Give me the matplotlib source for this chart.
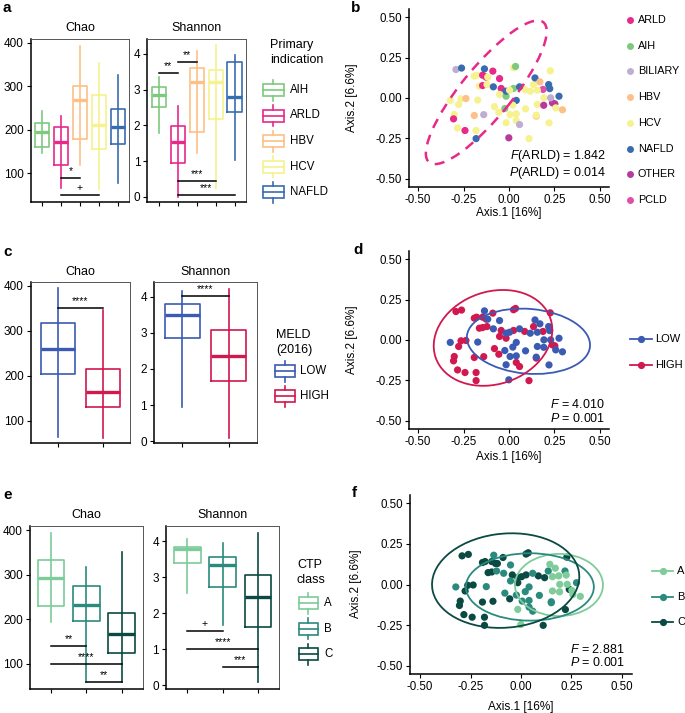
import matplotlib
matplotlib.use('Agg')
import matplotlib.pyplot as plt
from matplotlib.patches import Ellipse, Rectangle
from matplotlib.ticker import FormatStrFormatter

plt.rcParams['font.family'] = ['Liberation Sans', 'DejaVu Sans']
plt.rcParams['mathtext.fontset'] = 'custom'
plt.rcParams['mathtext.rm'] = 'Liberation Sans'
plt.rcParams['mathtext.it'] = 'Liberation Sans:italic'

W, H = 685, 713

# ---------------- box plot data (whislo, q1, median, q3, whishi) ----------------
ind_groups = ['AIH', 'ARLD', 'HBV', 'HCV', 'NAFLD']
ind_colors = ['#7fc97f', '#e7298a', '#fdc086', '#f5f28f', '#386cb0']
ind_chao = [[146, 161, 194, 215, 243],
            [66, 119, 173, 207, 232],
            [119, 180, 268, 300, 392],
            [64, 157, 211, 280, 354],
            [77, 167, 207, 247, 326]]
ind_shannon = [[1.79, 2.52, 2.85, 3.07, 3.35],
               [0.0, 0.95, 1.52, 1.98, 2.54],
               [1.23, 1.82, 3.22, 3.60, 4.07],
               [0.23, 2.17, 3.22, 3.55, 4.25],
               [1.03, 2.36, 2.80, 3.76, 3.97]]
ind_chao_sig = [(2, 3, 90, '*'), (2, 4, 50, '+')]
ind_shannon_sig = [(1, 2, 3.46, '**'), (2, 3, 3.76, '**'),
                   (2, 4, 0.44, '***'), (2, 5, 0.05, '***')]

meld_groups = ['LOW', 'HIGH']
meld_colors = ['#3b5bb3', '#d1184f']
meld_chao = [[63, 204, 259, 317, 395],
             [61, 130, 165, 214, 347]]
meld_shannon = [[0.95, 2.87, 3.49, 3.80, 4.17],
                [0.08, 1.66, 2.36, 3.08, 4.23]]
meld_chao_sig = [(1, 2, 350, '****')]
meld_shannon_sig = [(1, 2, 4.02, '****')]

ctp_groups = ['A', 'B', 'C']
ctp_colors = ['#7dcc99', '#2b8a7e', '#0b4a42']
ctp_chao = [[193, 230, 292, 333, 394],
            [60, 197, 232, 275, 318],
            [60, 125, 166, 213, 351]]
ctp_shannon = [[2.57, 3.38, 3.77, 3.84, 4.07],
               [1.67, 2.73, 3.33, 3.55, 3.95],
               [0.10, 1.63, 2.44, 3.06, 4.23]]
ctp_chao_sig = [(1, 2, 140, '**'), (1, 3, 100, '****'), (2, 3, 60, '**')]
ctp_shannon_sig = [(1, 2, 1.5, '+'), (1, 3, 1.0, '****'), (2, 3, 0.5, '***')]

# ---------------- ordination (PCoA) points ----------------
pc1 = [-0.292, -0.261, -0.191, -0.178, -0.145, -0.126, -0.089, 0.025, 0.036, 0.227,
       -0.163, -0.145, -0.121, -0.043, -0.052, -0.016, 0.025, 0.086, 0.135, 0.187,
       0.239, 0.252, -0.264, -0.237, -0.277, -0.301, -0.305, -0.283, -0.242, -0.181,
       -0.181, -0.191, -0.139, -0.080, -0.056, 0.040, 0.058, 0.110, 0.150,
       -0.323, -0.172, -0.135, -0.117, -0.086, -0.052, -0.016, 0.003, 0.058, 0.040,
       0.021, -0.023, 0.006, 0.040, -0.016, -0.001, 0.091, 0.117, 0.143, 0.170,
       0.156, 0.150, 0.156, 0.192, 0.191, 0.218, 0.224, 0.229, 0.275, 0.257,
       0.294, 0.220]
pc2 = [0.176, 0.185, 0.135, 0.141, 0.141, 0.129, 0.166, 0.187, 0.195, 0.168,
       0.073, 0.077, 0.083, 0.059, 0.022, 0.011, 0.059, 0.053, 0.083, 0.053,
       -0.030, -0.036, -0.005, -0.003, -0.040, -0.102, -0.129, -0.185, -0.201, -0.201,
       -0.251, -0.108, -0.103, -0.053, -0.088, -0.139, -0.164, -0.251, -0.112,
       -0.015, -0.013, 0.180, 0.129, 0.069, 0.120, 0.042, 0.048, 0.069, -0.015,
       -0.044, -0.065, -0.102, -0.098, -0.153, -0.246, -0.067, 0.042, 0.124, 0.100,
       0.048, -0.106, -0.040, 0.001, -0.045, 0.083, 0.058, 0.001, 0.011, -0.061,
       -0.073, -0.154]
meld = ['HIGH'] * 39 + ['LOW'] * 32
indication = ['BILIARY', 'NAFLD', 'HCV', 'HCV', 'ARLD', 'ARLD', 'ARLD', 'HCV', 'AIH', 'HCV',
              'HCV', 'ARLD', 'HCV', 'ARLD', 'HCV', 'AIH', 'AIH', 'HCV', 'HCV', 'PCLD',
              'OTHER', 'OTHER', 'HCV', 'HBV', 'HCV', 'HCV', 'ARLD', 'HCV', 'ARLD', 'HCV',
              'NAFLD', 'HBV', 'BILIARY', 'HCV', 'HCV', 'HCV', 'BILIARY', 'HCV', 'HBV',
              'HCV', 'HCV', 'NAFLD', 'HCV', 'NAFLD', 'ARLD', 'NAFLD', 'HCV', 'NAFLD', 'NAFLD',
              'HCV', 'AIH', 'HCV', 'HCV', 'HCV', 'OTHER', 'HCV', 'HCV', 'NAFLD', 'HBV',
              'HCV', 'HCV', 'HCV', 'HCV', 'OTHER', 'NAFLD', 'NAFLD', 'BILIARY', 'NAFLD', 'HCV',
              'HBV', 'HCV']
ctp = ['C', 'C', 'C', 'C', 'C', 'C', 'C', 'C', 'C', 'C',
       'C', 'C', 'B', 'C', 'B', 'C', 'C', 'C', 'B', 'A',
       'C', 'A', 'C', 'C', 'C', 'C', 'C', 'C', 'C', 'C',
       'C', 'C', 'C', 'B', 'C', 'B', 'B', 'C', 'B',
       'B', 'B', 'B', 'C', 'B', 'B', 'C', 'C', 'B', 'B',
       'B', 'B', 'B', 'B', 'A', 'A', 'B', 'C', 'A', 'A',
       'A', 'B', 'A', 'A', 'A', 'B', 'A', 'A', 'B', 'A',
       'A', 'C']

pt_groups = ['ARLD', 'AIH', 'BILIARY', 'HBV', 'HCV', 'NAFLD', 'OTHER', 'PCLD']
pt_colors = ['#e7298a', '#7fc97f', '#beaed4', '#fdc086', '#f5f28f', '#386cb0', '#b83a9c', '#df4fa8']

# ellipses: (center x, center y, width, height, angle)
arld_ellipse = (-0.125, 0.035, 1.07, 0.29, 54.5)
meld_ellipses = [(0.107, -0.008, 0.68, 0.40, -6),
                 (-0.088, 0.013, 0.68, 0.56, 30)]
ctp_ellipses = [(0.188, -0.003, 0.436, 0.382, 0),
                (0.044, -0.015, 0.634, 0.414, 0),
                (-0.076, 0.024, 0.734, 0.576, 10)]

fig = plt.figure(figsize=(W / 100, H / 100), dpi=100)


def rect(l, t, r, b):
    return [l / W, 1 - b / H, (r - l) / W, (b - t) / H]


def box_panel(pos, stats, colors, ylim, yticks, title, sigs, title_y):
    ax = fig.add_axes(rect(*pos))
    n = len(stats)
    bx = [dict(whislo=s[0], q1=s[1], med=s[2], q3=s[3], whishi=s[4], fliers=[]) for s in stats]
    art = ax.bxp(bx, positions=range(1, n + 1), widths=0.75, showcaps=False,
                 manage_ticks=False)
    for i, c in enumerate(colors):
        art['boxes'][i].set(color=c, lw=1.2)
        art['medians'][i].set(color=c, lw=2.4)
        art['whiskers'][2 * i].set(color=c, lw=1.2)
        art['whiskers'][2 * i + 1].set(color=c, lw=1.2)
        ax.vlines(i + 1, stats[i][1], stats[i][3], color=c, lw=1.2)
    rng = ylim[1] - ylim[0]
    for x1, x2, y, lab in sigs:
        ax.plot([x1, x2], [y, y], color='black', lw=1.1)
        ax.text((x1 + x2) / 2, y + rng * 0.012, lab, ha='center', va='bottom', fontsize=7.5)
    ax.set_xlim(0.4, n + 0.6)
    ax.set_ylim(*ylim)
    ax.set_xticks(range(1, n + 1))
    ax.set_xticklabels([])
    ax.set_yticks(yticks)
    ax.tick_params(length=3, width=0.8, labelsize=8.5, pad=2)
    for s in ['top', 'right']:
        ax.spines[s].set(color='#555555', lw=0.7)
    for s in ['left', 'bottom']:
        ax.spines[s].set(color='black', lw=1.1)
    fig.text((pos[0] + pos[2]) / 2 / W, 1 - title_y / H, title, ha='center', va='center', fontsize=9)
    return ax


def scatter_panel(pos, cols, ellipses, ell_colors, stat_lines, stat_pos, dashed=False):
    ax = fig.add_axes(rect(*pos))
    ax.scatter(pc1, pc2, c=cols, s=27, linewidths=0, zorder=2)
    for (cx, cy, w, h, a), c in zip(ellipses, ell_colors):
        if dashed:
            e = Ellipse((cx, cy), w, h, angle=a, fill=False, ec=c, lw=1.8, ls=(0, (4, 3)), zorder=3)
        else:
            e = Ellipse((cx, cy), w, h, angle=a, fill=False, ec=c, lw=1.3, zorder=3)
        ax.add_patch(e)
    ax.set_xlim(-0.55, 0.55)
    ax.set_ylim(-0.55, 0.55)
    ticks = [-0.5, -0.25, 0, 0.25, 0.5]
    ax.set_xticks(ticks)
    ax.set_yticks(ticks)
    ax.xaxis.set_major_formatter(FormatStrFormatter('%.2f'))
    ax.yaxis.set_major_formatter(FormatStrFormatter('%.2f'))
    ax.tick_params(length=3, width=0.8, labelsize=8.3, pad=2)
    ax.spines['top'].set_visible(False)
    ax.spines['right'].set_visible(False)
    ax.spines['left'].set_lw(1.1)
    ax.spines['bottom'].set_lw(1.1)
    xr, y1, y2 = stat_pos
    ax.text(xr, y1, stat_lines[0], transform=ax.transAxes, ha='right', va='center', fontsize=9)
    ax.text(xr, y2, stat_lines[1], transform=ax.transAxes, ha='right', va='center', fontsize=9)
    return ax


# ---------------- box plot panels ----------------
box_panel((30.7, 39.3, 129, 201.7), ind_chao, ind_colors, (35, 408), [100, 200, 300, 400], 'Chao', ind_chao_sig, 28)
box_panel((147.3, 39.3, 246, 201.7), ind_shannon, ind_colors, (-0.14, 4.41), [0, 1, 2, 3, 4], 'Shannon', ind_shannon_sig, 28)
box_panel((30.7, 281.7, 130, 443.3), meld_chao, meld_colors, (50, 409), [100, 200, 300, 400], 'Chao', meld_chao_sig, 272)
box_panel((154, 281.7, 256.7, 443.3), meld_shannon, meld_colors, (-0.06, 4.42), [0, 1, 2, 3, 4], 'Shannon', meld_shannon_sig, 272)
box_panel((30, 526, 142.7, 689.3), ctp_chao, ctp_colors, (43, 409), [100, 200, 300, 400], 'Chao', ctp_chao_sig, 515)
box_panel((166, 526, 279.3, 689.3), ctp_shannon, ctp_colors, (-0.11, 4.42), [0, 1, 2, 3, 4], 'Shannon', ctp_shannon_sig, 515)

# ---------------- ordination panels ----------------
ind_cmap = dict(zip(pt_groups, pt_colors))
meld_cmap = dict(zip(meld_groups, meld_colors))
ctp_cmap = dict(zip(ctp_groups, ctp_colors))

scatter_panel((409, 9, 609, 187), [ind_cmap[g] for g in indication], [arld_ellipse], ['#e7298a'],
              [r'$\it{F}$(ARLD) = 1.842', r'$\it{P}$(ARLD) = 0.014'], (0.985, 0.176, 0.079), dashed=True)
scatter_panel((409, 251, 609, 429), [meld_cmap[g] for g in meld], meld_ellipses, meld_colors,
              [r'$\it{F}$ = 4.010', r'$\it{P}$ = 0.001'], (0.98, 0.14, 0.06))
scatter_panel((410, 495, 632, 674), [ctp_cmap[g] for g in ctp], ctp_ellipses, ctp_colors,
              [r'$\it{F}$ = 2.881', r'$\it{P}$ = 0.001'], (0.968, 0.138, 0.063))

# ---------------- overlay: labels and legends ----------------
ov = fig.add_axes([0, 0, 1, 1])
ov.set_xlim(0, W)
ov.set_ylim(H, 0)
ov.axis('off')
ov.patch.set_visible(False)

for lab, x, y in [('a', 3, 8), ('b', 351, 8), ('c', 3, 252), ('d', 353, 250), ('e', 3, 495), ('f', 352, 493)]:
    ov.text(x, y, lab, fontsize=11, fontweight='bold', ha='left', va='center')

for x, y in [(509, 213), (509, 457), (521, 707)]:
    ov.text(x, y, 'Axis.1 [16%]', fontsize=8.5, ha='center', va='center')
for x, y in [(352, 98), (352, 340), (356, 584)]:
    ov.text(x, y, 'Axis.2 [6.6%]', fontsize=8.5, ha='center', va='center', rotation=90)


def box_legend(title_lines, x_title, y_title, labels, colors, x0, w, ys, x_lab):
    for k, t in enumerate(title_lines):
        ov.text(x_title, y_title + 15 * k, t, fontsize=9, ha='left', va='center')
    for lab, c, y in zip(labels, colors, ys):
        ov.add_patch(Rectangle((x0, y - 6), w, 12, fill=False, ec=c, lw=1.2))
        ov.plot([x0, x0 + w], [y, y], color=c, lw=1.2)
        ov.plot([x0 + w / 2, x0 + w / 2], [y - 10.5, y - 6], color=c, lw=1.2)
        ov.plot([x0 + w / 2, x0 + w / 2], [y + 6, y + 10.5], color=c, lw=1.2)
        ov.text(x_lab, y, lab, fontsize=8.3, ha='left', va='center')


box_legend(['Primary', 'indication'], 270, 45, ind_groups, ind_colors, 263, 21,
           [90, 115.5, 141, 166.5, 192], 290)
box_legend(['MELD', '(2016)'], 276, 335, meld_groups, meld_colors, 275, 20, [371, 396], 300)
box_legend(['CTP', 'class'], 297, 565, ctp_groups, ctp_colors, 299, 19, [603, 628.5, 654], 324)

for k, (g, c) in enumerate(zip(pt_groups, pt_colors)):
    y = 20 + 25.7 * k
    ov.plot(630, y, 'o', color=c, ms=5, mec='none')
    ov.text(638, y, g, fontsize=7.8, ha='left', va='center')

for k, (g, c) in enumerate(zip(meld_groups, meld_colors)):
    y = 339 + 26 * k
    ov.plot([630, 652], [y, y], color=c, lw=1.3)
    ov.plot(641, y, 'o', color=c, ms=5.2, mec='none')
    ov.text(655, y, g, fontsize=8, ha='left', va='center')

for k, (g, c) in enumerate(zip(ctp_groups, ctp_colors)):
    y = 571 + 25.5 * k
    ov.plot([652, 673], [y, y], color=c, lw=1.3)
    ov.plot(663, y, 'o', color=c, ms=5.2, mec='none')
    ov.text(677, y, g, fontsize=8, ha='left', va='center')

fig.savefig('out.png', dpi=100)
